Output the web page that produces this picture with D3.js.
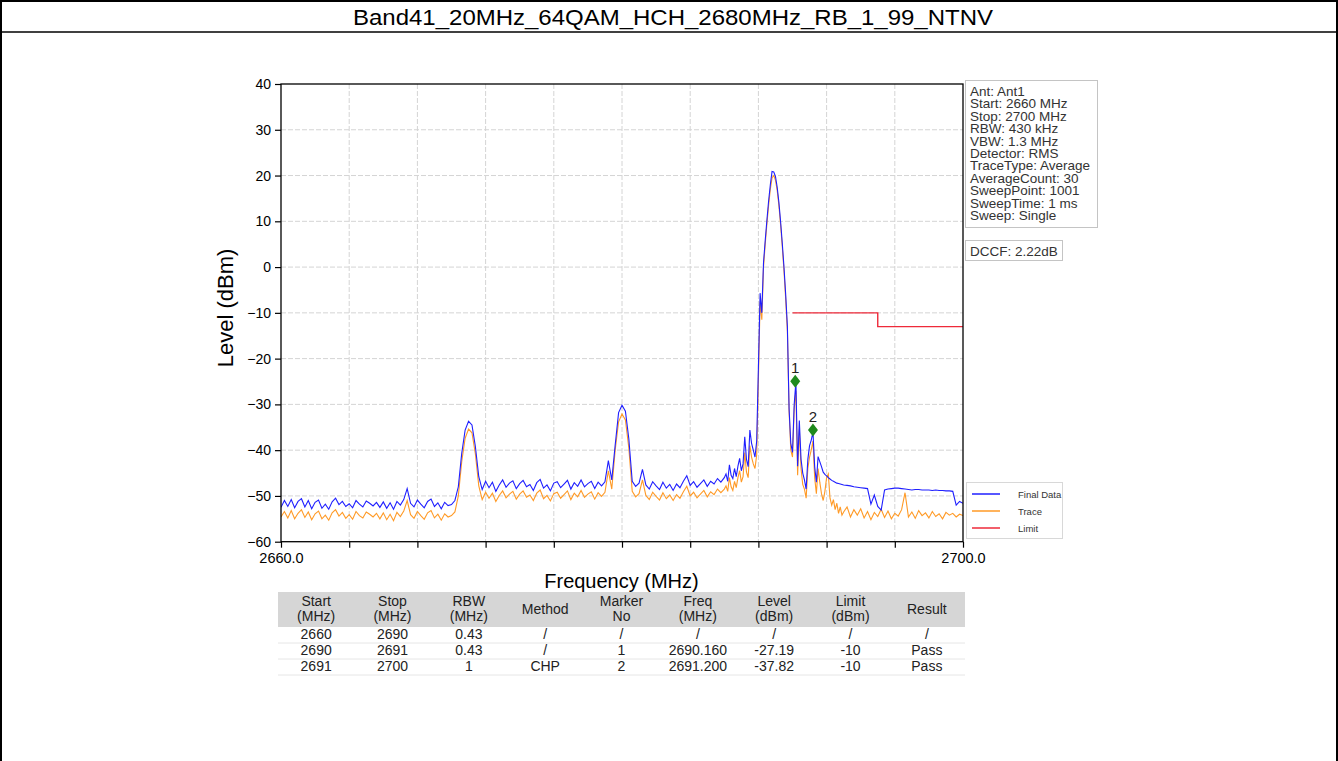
<!DOCTYPE html>
<html><head><meta charset="utf-8">
<script src="https://cdn.jsdelivr.net/npm/d3@7"></script>
<style>
html,body{margin:0;padding:0;background:#fff;}
svg{display:block;font-family:"Liberation Sans",Arial,sans-serif;}
</style></head>
<body><svg id="c" width="1338" height="761"></svg>
<script>
const title = "Band41_20MHz_64QAM_HCH_2680MHz_RB_1_99_NTNV";
const sweepSegments = [
  {start: 2660, step: 0.2, count: 130},
  {start: 2686, step: 0.1, count: 70},
  {start: 2693, step: 0.2, count: 36}
];
const finalData = [
 -52.5,-51.0,-52.3,-50.8,-52.6,-51.2,-50.6,-52.4,-51.0,-52.8,
 -51.4,-50.9,-52.7,-51.8,-52.9,-51.3,-50.5,-51.9,-51.2,-52.3,
 -51.7,-52.6,-51.0,-51.8,-52.4,-51.1,-51.6,-52.2,-51.4,-52.5,
 -51.3,-52.7,-51.5,-52.9,-51.2,-52.0,-50.8,-48.4,-51.6,-52.4,
 -50.9,-51.8,-52.6,-51.2,-50.7,-52.3,-51.5,-52.8,-51.4,-52.1,
 -51.9,-51.0,
 -48.0,-40.7,-35.6,-33.7,-34.5,-39.2,-45.8,
 -48.6,-46.8,-48.2,-47.0,-49.0,-47.6,-46.5,-48.1,-47.2,-46.7,
 -48.4,-47.3,-46.6,-48.0,-47.5,-48.8,-47.1,-46.4,-48.3,-47.6,
 -48.9,-47.2,-46.9,-48.2,-47.4,-46.6,-48.5,-47.1,-47.9,-46.5,
 -48.0,-47.3,-46.8,-48.4,-47.0,-47.8,-46.9,
 -42.3,-46.5,-38.9,-31.8,-30.2,-31.5,-37.5,-46.8,
 -47.9,-47.2,-44.2,-47.6,-48.5,-46.9,-47.8,-48.6,-47.0,-48.3,
 -47.5,-48.8,-47.4,-48.2,-46.8,-45.6,-47.7,-46.9,-48.1,-47.3,
 -46.5,-47.9,-46.8,-47.4,-46.2,-47.0,
 -46.0,-45.2,-46.8,-43.2,-45.5,-46.2,-44.0,-45.8,-43.5,-41.8,
 -44.5,-43.0,-37.1,-42.0,-43.6,-35.6,-38.5,-40.0,-41.5,-38.0,
 -22.0,-5.7,-10.0,1.0,5.8,10.3,14.5,18.0,20.9,20.8,
 19.8,17.5,14.2,10.0,5.2,0.0,-6.0,-13.0,-31.0,-38.5,
 -40.5,-30.0,-25.0,-43.5,-33.5,-42.0,-45.0,-46.5,-48.5,-42.0,
 -39.0,-37.8,-36.0,-43.6,-47.0,-41.4,-42.5,-43.6,-44.8,-45.3,
 -45.6,-46.0,-46.3,-46.6,-46.8,-47.0,-47.2,-47.3,-47.4,-47.5,
 -47.6,-47.7,-47.8,-48.0,-48.1,-48.2,-48.3,-48.4,-51.8,-49.8,
 -52.3,-53.1,-48.7,-48.5,-48.4,-48.3,-48.3,-48.4,-48.5,-48.6,
 -48.7,-48.6,-48.6,-48.7,-48.7,-48.7,-48.8,-48.7,-48.8,-48.8,
 -48.9,-48.9,-49.0,-52.0,-51.2,-51.6
];
const traceData = [
 -54.6,-53.4,-54.8,-53.2,-55.0,-53.8,-53.0,-54.7,-53.5,-55.2,
 -53.9,-53.3,-55.0,-54.2,-55.3,-53.7,-53.0,-54.4,-53.6,-54.9,
 -54.1,-55.1,-53.4,-54.3,-54.8,-53.5,-54.0,-54.6,-53.8,-55.0,
 -53.7,-55.2,-54.0,-55.4,-53.6,-54.5,-53.3,-51.0,-54.1,-54.9,
 -53.4,-54.3,-55.1,-53.7,-53.2,-54.8,-54.0,-55.3,-53.9,-54.6,
 -54.3,-53.5,
 -50.0,-42.5,-37.4,-35.4,-36.2,-40.8,-47.8,
 -50.8,-49.2,-50.5,-49.4,-51.2,-49.9,-48.9,-50.4,-49.6,-49.0,
 -50.7,-49.6,-48.9,-50.3,-49.8,-51.0,-49.4,-48.7,-50.6,-49.9,
 -51.1,-49.5,-49.2,-50.5,-49.7,-48.9,-50.8,-49.4,-50.2,-48.8,
 -50.3,-49.6,-49.1,-50.7,-49.3,-50.1,-49.2,
 -44.5,-48.5,-40.0,-33.8,-32.1,-33.4,-39.5,-49.0,
 -50.2,-49.5,-46.5,-49.9,-50.8,-49.2,-50.1,-50.9,-49.3,-50.6,
 -49.8,-51.0,-49.7,-50.5,-49.1,-47.9,-50.0,-49.2,-50.4,-49.6,
 -48.8,-50.2,-49.1,-49.7,-48.5,-49.3,
 -48.5,-47.8,-49.0,-46.0,-48.0,-48.8,-46.8,-48.2,-46.0,-44.5,
 -47.0,-45.8,-40.5,-44.8,-46.0,-39.0,-41.5,-43.0,-44.0,-41.0,
 -24.5,-7.5,-11.5,0.0,5.0,9.5,13.5,17.0,19.5,20.0,
 19.0,16.8,13.5,9.3,4.5,-0.8,-7.0,-14.0,-31.5,-40.0,
 -41.5,-31.0,-27.0,-45.5,-35.5,-44.0,-47.5,-48.5,-50.5,-44.0,
 -41.5,-40.0,-38.0,-46.0,-49.5,-44.0,-47.0,-49.5,-51.0,-49.0,
 -46.0,-45.2,-50.5,-52.0,-50.8,-53.0,-51.6,-53.8,-52.4,-54.2,
 -53.5,-52.4,-54.6,-53.0,-54.2,-52.8,-54.8,-53.4,-55.2,-53.6,
 -54.5,-52.9,-54.7,-53.3,-55.0,-53.8,-54.4,-53.0,-49.3,-54.6,
 -53.5,-54.9,-53.2,-54.3,-53.7,-54.8,-53.4,-54.5,-53.9,-55.0,
 -53.6,-54.2,-53.8,-54.6,-54.0,-54.3
];
const limitFreq = [2690, 2695, 2695, 2700];
const limitLevel = [-10, -10, -13, -13];
const markerNo = ["1", "2"];
const markerFreq = [2690.16, 2691.2];
const markerLevel = [-27.19, -37.82];
const dccf = 2.22;
const yTicks = [-60, -50, -40, -30, -20, -10, 0, 10, 20, 30, 40];
const xTicks = [2660, 2664, 2668, 2672, 2676, 2680, 2684, 2688, 2692, 2696, 2700];
const xTickLabels = ["2660.0", "", "", "", "", "", "", "", "", "", "2700.0"];
const infoLines = ["Ant: Ant1","Start: 2660 MHz","Stop: 2700 MHz","RBW: 430 kHz","VBW: 1.3 MHz","Detector: RMS","TraceType: Average","AverageCount: 30","SweepPoint: 1001","SweepTime: 1 ms","Sweep: Single"];
const dccfText = "DCCF: 2.22dB";
const legendNames = ["Final Data", "Trace", "Limit"];
const tableHeaders = [["Start","(MHz)"],["Stop","(MHz)"],["RBW","(MHz)"],["Method"],["Marker","No"],["Freq","(MHz)"],["Level","(dBm)"],["Limit","(dBm)"],["Result"]];
const tableRows = [
  ["2660","2690","0.43","/","/","/","/","/","/"],
  ["2690","2691","0.43","/","1","2690.160","-27.19","-10","Pass"],
  ["2691","2700","1","CHP","2","2691.200","-37.82","-10","Pass"]
];

// ---- build sweep frequency axis
const freqs = [];
sweepSegments.forEach(s => { for (let i = 0; i < s.count; i++) freqs.push(+(s.start + i * s.step).toFixed(2)); });

const svg = d3.select("#c");
const W = 1338, H = 761;
const C_BLUE = "#1f1fff", C_ORANGE = "#ff9a26", C_RED = "#ee2a3a", C_GREEN = "#1e8a1e";

// outer frame & title
svg.append("rect").attr("x",0).attr("y",0).attr("width",W).attr("height",H).attr("fill","#fff");
svg.append("line").attr("x1",0).attr("x2",W).attr("y1",1).attr("y2",1).attr("stroke","#000").attr("stroke-width",2);
svg.append("line").attr("x1",1).attr("x2",1).attr("y1",0).attr("y2",H).attr("stroke","#000").attr("stroke-width",2);
svg.append("line").attr("x1",W-1).attr("x2",W-1).attr("y1",0).attr("y2",H).attr("stroke","#000").attr("stroke-width",2);
svg.append("line").attr("x1",0).attr("x2",W).attr("y1",32).attr("y2",32).attr("stroke","#000").attr("stroke-width",1.5);
svg.append("text").attr("x",673).attr("y",25).attr("text-anchor","middle").attr("font-size",22.5)
  .attr("textLength",640).attr("lengthAdjust","spacingAndGlyphs")
  .attr("fill","#000").text(title);

// plot area
const L = 281, R = 963, T = 84, B = 541.7;
const x = d3.scaleLinear().domain([2660, 2700]).range([L, R]);
const y = d3.scaleLinear().domain([-60, 40]).range([B, T]);

const grid = svg.append("g");
grid.selectAll("line.v").data(xTicks.slice(1, -1)).join("line")
  .attr("x1", d => x(d)).attr("x2", d => x(d)).attr("y1", T).attr("y2", B)
  .attr("stroke", "#d4d4d4").attr("stroke-width", 1).attr("stroke-dasharray", "5,2");
grid.selectAll("line.h").data(yTicks.slice(1, -1)).join("line")
  .attr("x1", L).attr("x2", R).attr("y1", d => y(d)).attr("y2", d => y(d))
  .attr("stroke", "#d4d4d4").attr("stroke-width", 1).attr("stroke-dasharray", "5,2");

// traces
const clip = svg.append("clipPath").attr("id","pc").append("rect").attr("x",L).attr("y",T).attr("width",R-L).attr("height",B-T);
const plot = svg.append("g").attr("clip-path","url(#pc)");
const line = d3.line().x(d => x(d[0])).y(d => y(d[1]));
plot.append("path").datum(freqs.map((f, i) => [f, traceData[i]])).attr("d", line)
  .attr("fill","none").attr("stroke",C_ORANGE).attr("stroke-width",1.1);
plot.append("path").datum(freqs.map((f, i) => [f, finalData[i]])).attr("d", line)
  .attr("fill","none").attr("stroke",C_BLUE).attr("stroke-width",1.1);
plot.append("path").datum(limitFreq.map((f, i) => [f, limitLevel[i]])).attr("d", line)
  .attr("fill","none").attr("stroke",C_RED).attr("stroke-width",1.4);

// markers
const mk = svg.append("g");
markerFreq.forEach((f, i) => {
  const mx = x(f), my = y(markerLevel[i] + dccf);
  mk.append("path").attr("d", `M${mx},${my-6.5}L${mx+5},${my}L${mx},${my+6.5}L${mx-5},${my}Z`).attr("fill", C_GREEN);
  mk.append("text").attr("x", mx).attr("y", my - 8.5).attr("text-anchor","middle").attr("font-size",15)
    .attr("fill","#222").text(markerNo[i]);
});

// axes
const fmt = d => d.toString().replace("-", "\u2212");
const yAxis = svg.append("g").attr("transform",`translate(${L},0)`)
  .call(d3.axisLeft(y).tickValues(yTicks).tickSize(6).tickPadding(4).tickFormat(fmt));
const xAxis = svg.append("g").attr("transform",`translate(0,${B})`)
  .call(d3.axisBottom(x).tickValues(xTicks).tickSize(6).tickPadding(5).tickFormat((d, i) => xTickLabels[i]));
[yAxis, xAxis].forEach(a => {
  a.select(".domain").remove();
  a.selectAll(".tick line").attr("stroke","#000").attr("stroke-width",1.2);
  a.selectAll(".tick text").attr("fill","#000").attr("font-family","Liberation Sans, Arial, sans-serif");
});
yAxis.selectAll(".tick text").attr("font-size",14);
xAxis.selectAll(".tick text").attr("font-size",14.5);
svg.append("rect").attr("x",L).attr("y",T).attr("width",R-L).attr("height",B-T)
  .attr("fill","none").attr("stroke","#000").attr("stroke-width",1.3);

svg.append("text").attr("transform",`translate(233,308) rotate(-90)`).attr("text-anchor","middle")
  .attr("font-size",22).attr("fill","#000").text("Level (dBm)");
svg.append("text").attr("x",621.5).attr("y",588).attr("text-anchor","middle")
  .attr("font-size",20).attr("fill","#000").text("Frequency (MHz)");

// info box
svg.append("rect").attr("x",965.5).attr("y",80.5).attr("width",132).attr("height",147)
  .attr("fill","#fff").attr("stroke","#c4c4c4");
svg.append("g").selectAll("text").data(infoLines).join("text")
  .attr("x",970).attr("y",(d, i) => 96 + i * 12.4).attr("font-size",13.5).attr("fill","#333").text(d => d);
svg.append("rect").attr("x",965.5).attr("y",240.5).attr("width",97).attr("height",20)
  .attr("fill","#fff").attr("stroke","#c4c4c4");
svg.append("text").attr("x",970).attr("y",255.5).attr("font-size",13.5).attr("fill","#333").text(dccfText);

// legend
svg.append("rect").attr("x",966.5).attr("y",482.5).attr("width",96).attr("height",56)
  .attr("fill","#fff").attr("stroke","#d8d8d8");
const legColors = [C_BLUE, C_ORANGE, C_RED];
legendNames.forEach((n, i) => {
  const ly = 494 + i * 17;
  svg.append("line").attr("x1",972).attr("x2",1000).attr("y1",ly).attr("y2",ly).attr("stroke",legColors[i]).attr("stroke-width",1.5);
  svg.append("text").attr("x",1018).attr("y",ly + 3.5).attr("font-size",9.5).attr("fill","#333").text(n);
});

// table
const tx = d3.scaleBand().domain(d3.range(tableHeaders.length)).range([278, 965]);
svg.append("rect").attr("x",278).attr("y",592).attr("width",687).attr("height",35).attr("fill","#d6d6d6");
tableHeaders.forEach((h, i) => {
  const cx = tx(i) + tx.bandwidth() / 2;
  h.forEach((s, j) => {
    const yy = h.length === 1 ? 614 : 606 + j * 15;
    svg.append("text").attr("x",cx).attr("y",yy).attr("text-anchor","middle").attr("font-size",14)
      .attr("fill","#222").text(s);
  });
});
tableRows.forEach((r, k) => {
  const ry = 627 + k * 16;
  svg.append("line").attr("x1",278).attr("x2",965).attr("y1",ry+16).attr("y2",ry+16).attr("stroke","#e6e6e6");
  r.forEach((s, i) => {
    svg.append("text").attr("x",tx(i) + tx.bandwidth() / 2).attr("y",ry + 12).attr("text-anchor","middle")
      .attr("font-size",14).attr("fill","#222").text(s);
  });
});
</script></body></html>
